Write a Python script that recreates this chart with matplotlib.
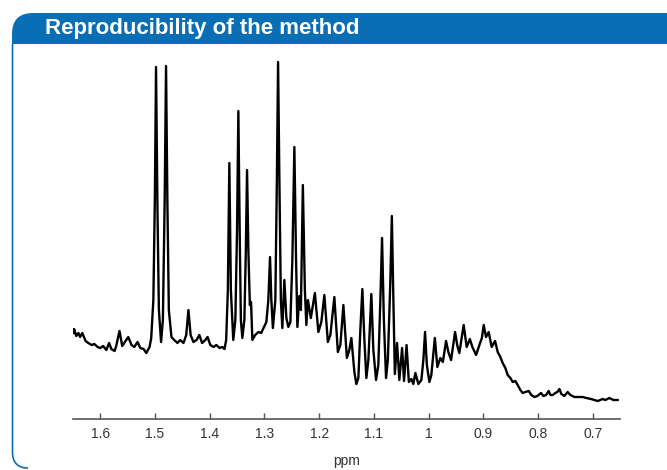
import numpy as np
import matplotlib
matplotlib.use('Agg')
import matplotlib.pyplot as plt
from matplotlib.path import Path
from matplotlib.patches import PathPatch

plt.rcParams['font.family'] = ['Liberation Sans', 'DejaVu Sans']

# 谱图数据（化学位移 ppm，强度为任意单位）
ppm = [1.649, 1.648, 1.644, 1.640, 1.637, 1.633, 1.627, 1.622, 1.616, 1.611,
       1.605, 1.600, 1.595, 1.589, 1.584, 1.580, 1.574, 1.571, 1.565, 1.560,
       1.554, 1.549, 1.543, 1.538, 1.532, 1.527, 1.521, 1.516, 1.510, 1.507,
       1.5031, 1.5004, 1.4982, 1.4958, 1.4930, 1.4890, 1.4857, 1.4824, 1.4799, 1.4775,
       1.4748, 1.470, 1.465, 1.459, 1.454, 1.448, 1.443, 1.439, 1.435, 1.430,
       1.424, 1.419, 1.414, 1.408, 1.404, 1.399, 1.393, 1.388, 1.382, 1.377,
       1.373, 1.370, 1.3669, 1.3642, 1.3614, 1.357, 1.3532, 1.3501, 1.3477, 1.3453,
       1.3431, 1.3404, 1.3367, 1.3340, 1.3318, 1.3294, 1.3267, 1.3245, 1.3221, 1.317,
       1.311, 1.306, 1.300, 1.2965, 1.2929, 1.2898, 1.2874, 1.2846, 1.2801, 1.2773,
       1.2751, 1.2727, 1.2700, 1.2673, 1.2636, 1.2599, 1.2563, 1.2526, 1.2490, 1.2453,
       1.2422, 1.2398, 1.2362, 1.2334, 1.2298, 1.2261, 1.2234, 1.2206, 1.2152, 1.2078,
       1.2014, 1.1960, 1.1905, 1.1841, 1.1795, 1.1722, 1.1658, 1.1612, 1.1557, 1.1493,
       1.1448, 1.1411, 1.1356, 1.1320, 1.1283, 1.1247, 1.1210, 1.1173, 1.1137, 1.1100,
       1.1046, 1.1009, 1.0960, 1.0918, 1.0881, 1.0850, 1.0817, 1.0777, 1.0744, 1.0698,
       1.0671, 1.0643, 1.0616, 1.0576, 1.0534, 1.0484, 1.0448, 1.0402, 1.0360, 1.0314,
       1.0278, 1.0241, 1.0186, 1.0131, 1.0095, 1.0064, 1.0031, 0.9985, 0.9949, 0.9885,
       0.9839, 0.9784, 0.9738, 0.9680, 0.9638, 0.9588, 0.9515, 0.9473, 0.9437, 0.9400,
       0.9358, 0.9303, 0.9245, 0.9199, 0.9131, 0.9058, 0.9025, 0.8992, 0.8949, 0.8901,
       0.8846, 0.8784, 0.8736, 0.8687, 0.8645, 0.8596, 0.8554, 0.8504, 0.8462, 0.8413,
       0.8371, 0.8322, 0.8279, 0.8230, 0.8170, 0.8120, 0.8066, 0.8011, 0.7943, 0.7901,
       0.7852, 0.7804, 0.7773, 0.7731, 0.7682, 0.7645, 0.7608, 0.7572, 0.7517, 0.7457,
       0.7407, 0.7334, 0.7261, 0.7183, 0.7115, 0.7029, 0.6969, 0.6908, 0.6859, 0.6817,
       0.6768, 0.6694, 0.6621, 0.6543]

intensity = [86, 90, 83, 86, 82, 86, 78, 76, 74, 75,
             72, 71, 73, 69, 76, 70, 68, 73, 88, 73,
             78, 82, 74, 72, 77, 71, 70, 66, 72, 81,
             119, 219, 352, 219, 109, 77, 99, 219, 353, 219,
             109, 82, 79, 76, 79, 76, 84, 109, 84, 77,
             79, 84, 76, 79, 82, 74, 72, 74, 71, 72,
             70, 79, 129, 256, 129, 79, 99, 189, 308, 189,
             99, 81, 99, 169, 249, 169, 114, 117, 79, 84,
             87, 86, 93, 97, 119, 162, 119, 91, 119, 239,
             357, 239, 119, 91, 139, 101, 92, 97, 159, 272,
             159, 92, 123, 109, 234, 129, 94, 119, 101, 126,
             87, 97, 124, 77, 84, 122, 67, 74, 114, 61,
             69, 81, 47, 35, 41, 89, 130, 79, 41, 59,
             125, 69, 39, 54, 119, 181, 99, 41, 59, 139,
             203, 119, 45, 76, 39, 71, 38, 74, 37, 40,
             35, 46, 35, 39, 59, 87, 54, 37, 44, 81,
             52, 61, 57, 78, 67, 59, 87, 73, 66, 79,
             94, 72, 80, 72, 64, 76, 81, 94, 82, 87,
             72, 78, 67, 62, 56, 51, 44, 41, 37, 38,
             34, 29, 26, 27, 28, 24, 22, 23, 26, 23,
             24, 28, 24, 24, 26, 27, 30, 25, 23, 27,
             24, 22, 22, 22, 21, 20, 19, 18, 19, 20,
             19, 21, 19, 19]

tick_values = [1.6, 1.5, 1.4, 1.3, 1.2, 1.1, 1.0, 0.9, 0.8, 0.7]
tick_labels = ['1.6', '1.5', '1.4', '1.3', '1.2', '1.1', '1', '0.9', '0.8', '0.7']

title_text = 'Reproducibility of the method'
blue = '#0a6eb4'

W, H = 667, 470
fig = plt.figure(figsize=(W / 100, H / 100), dpi=100)

# 背景装饰层（像素坐标）
deco = fig.add_axes([0, 0, 1, 1])
deco.set_xlim(0, W)
deco.set_ylim(H, 0)
deco.axis('off')

# 标题栏（左上角圆角）
r = 21
bar = Path([(12, 44), (12, 13 + r), (12, 13), (12 + r, 13), (W, 13), (W, 44), (12, 44)],
           [Path.MOVETO, Path.LINETO, Path.CURVE3, Path.CURVE3, Path.LINETO, Path.LINETO, Path.CLOSEPOLY])
deco.add_patch(PathPatch(bar, facecolor=blue, edgecolor='none'))
# 左侧边框
border = Path([(12.5, 44), (12.5, 452), (12.5, 468), (28, 468)],
              [Path.MOVETO, Path.LINETO, Path.CURVE3, Path.CURVE3])
deco.add_patch(PathPatch(border, facecolor='none', edgecolor=blue, lw=1.2))
deco.text(45, 28.5, title_text, color='white', fontsize=16, fontweight='bold',
          ha='left', va='center')

# 谱图主体
ax = fig.add_axes([73 / W, (H - 419) / H, 547 / W, (419 - 55) / H])
ax.plot(ppm, intensity, color='black', lw=1.7, solid_joinstyle='round')
ax.set_xlim(1.65, 0.65)
ax.set_ylim(0, 364)
for s in ['top', 'right', 'left']:
    ax.spines[s].set_visible(False)
ax.spines['bottom'].set_color('#555555')
ax.spines['bottom'].set_linewidth(1.2)
ax.set_yticks([])
ax.set_xticks(tick_values)
ax.set_xticklabels(tick_labels)
ax.tick_params(axis='x', direction='in', length=4, width=1, color='#555555',
               labelsize=10, labelcolor='#333333', pad=6)
ax.set_xlabel('ppm', fontsize=10, color='#333333', labelpad=9)
ax.patch.set_alpha(0)

fig.savefig('out.png', dpi=100)
